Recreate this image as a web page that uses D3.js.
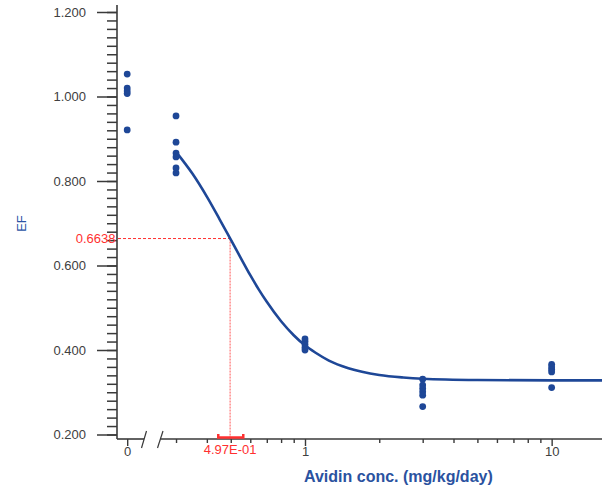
<!DOCTYPE html>
<html>
<head>
<meta charset="utf-8">
<script src="https://cdn.jsdelivr.net/npm/d3@7"></script>
<style>
  html, body { margin: 0; padding: 0; background: #fff; }
  svg { display: block; font-family: "Liberation Sans", Arial, sans-serif; }
</style>
</head>
<body>
<svg id="chart" width="602" height="489"></svg>
<script>
// Dose groups (mg/kg/day) and the EF measured in each animal
const doseGroups = [0, 0.3, 1, 3, 10];
const efByDose = [
  [1.053, 1.020, 1.013, 1.007, 0.921],
  [0.954, 0.892, 0.866, 0.857, 0.831, 0.819],
  [0.426, 0.420, 0.413, 0.406, 0.400],
  [0.331, 0.317, 0.309, 0.301, 0.293, 0.266],
  [0.366, 0.360, 0.354, 0.348, 0.311]
];

// Fitted dose-response curve
const fitDose = [0.3, 0.35, 0.4, 0.45, 0.497, 0.55, 0.6, 0.65, 0.7, 0.8, 0.9, 1.0, 1.1, 1.25, 1.5, 2, 2.5, 3, 5, 10, 16];
const fitEF   = [0.869, 0.817, 0.763, 0.710, 0.664, 0.617, 0.577, 0.543, 0.514, 0.468, 0.435, 0.411, 0.394, 0.375, 0.357, 0.341, 0.335, 0.332, 0.329, 0.328, 0.328];

// EC50 with its interval and the response at EC50
const ec50 = 0.497;
const ec50Label = "4.97E-01";
const ec50Low = 0.445;
const ec50High = 0.562;
const efAtEc50 = 0.6638;

// Axis ticks
const yMajorTicks = [0.2, 0.4, 0.6, 0.8, 1.0, 1.2];
const yMinorTicks = d3.range(0.2, 1.2001, 0.02);
const xMajorTicks = [1, 10];
const xMinorTicks = [0.3, 0.4, 0.5, 0.6, 0.7, 0.8, 0.9, 2, 3, 4, 5, 6, 7, 8, 9];

const svg = d3.select("#chart");
const axisColor = "#3a3a3a";
const textColor = "#404040";
const blue = "#1e4797";
const red = "#ff3030";

const axisX = 117, axisY = 439;

const y = d3.scaleLinear().domain([0.2, 1.2]).range([434.5, 12]);
const xLog = d3.scaleLog().domain([0.26, 16]).range([160.7, 602]);
const xZero = d3.scaleLinear().domain([-1, 1]).range([116.8, 137.6]);
const xPos = d => d === 0 ? xZero(0) : xLog(d);

// ---- Y axis ----
const yMinor = svg.append("g").attr("transform", `translate(${axisX},0)`)
  .call(d3.axisLeft(y).tickValues(yMinorTicks).tickSize(10).tickFormat(""));
const yMajor = svg.append("g").attr("transform", `translate(${axisX},0)`)
  .call(d3.axisLeft(y).tickValues(yMajorTicks).tickSize(20).tickPadding(11).tickFormat(d3.format(".3f")));
[yMinor, yMajor].forEach(g => {
  g.select(".domain").remove();
  g.selectAll("line").attr("stroke", axisColor).attr("stroke-width", 1.5);
  g.selectAll("text").attr("fill", textColor).attr("font-size", 13)
    .attr("font-family", "Liberation Sans, Arial, sans-serif");
});
svg.append("line").attr("x1", axisX).attr("x2", axisX).attr("y1", 5).attr("y2", axisY)
  .attr("stroke", axisColor).attr("stroke-width", 1.6);

// ---- X axis: zero segment, break, log segment ----
svg.append("line").attr("x1", axisX).attr("x2", 144).attr("y1", axisY).attr("y2", axisY)
  .attr("stroke", axisColor).attr("stroke-width", 1.6);
svg.append("line").attr("x1", 160.5).attr("x2", 602).attr("y1", axisY).attr("y2", axisY)
  .attr("stroke", axisColor).attr("stroke-width", 1.6);
[[146.5, 141.5], [163, 157.5]].forEach(([xt, xb]) => {
  svg.append("line").attr("x1", xt).attr("y1", 431).attr("x2", xb).attr("y2", 448)
    .attr("stroke", axisColor).attr("stroke-width", 1.2);
});

const styleX = g => {
  g.select(".domain").remove();
  g.selectAll("line").attr("stroke", axisColor).attr("stroke-width", 1.4);
  g.selectAll("text").attr("fill", textColor).attr("font-size", 13)
    .attr("font-family", "Liberation Sans, Arial, sans-serif");
};
svg.append("g").attr("transform", `translate(0,${axisY})`)
  .call(d3.axisBottom(xZero).tickValues([0]).tickSize(7).tickPadding(1).tickFormat(d3.format("d")))
  .call(styleX);
svg.append("g").attr("transform", `translate(0,${axisY})`)
  .call(d3.axisBottom(xLog).tickValues(xMinorTicks).tickSize(4).tickFormat(""))
  .call(styleX);
svg.append("g").attr("transform", `translate(0,${axisY})`)
  .call(d3.axisBottom(xLog).tickValues(xMajorTicks).tickSize(7).tickPadding(1).tickFormat(d3.format("d")))
  .call(styleX);

// ---- Axis titles ----
svg.append("text")
  .attr("transform", "translate(25.5,223.5) rotate(-90)")
  .attr("text-anchor", "middle")
  .attr("font-size", 13).attr("fill", "#2b55a5")
  .text("EF");
svg.append("text")
  .attr("x", 304).attr("y", 482)
  .attr("font-size", 16).attr("font-weight", "bold").attr("fill", "#2a52a0")
  .text("Avidin conc. (mg/kg/day)");

// ---- EC50 guide lines ----
svg.append("line")
  .attr("x1", axisX + 1).attr("x2", xLog(ec50)).attr("y1", y(efAtEc50)).attr("y2", y(efAtEc50))
  .attr("stroke", red).attr("stroke-width", 1).attr("stroke-dasharray", "3,2");
svg.append("line")
  .attr("x1", xLog(ec50)).attr("x2", xLog(ec50)).attr("y1", y(efAtEc50)).attr("y2", axisY)
  .attr("stroke", red).attr("stroke-width", 1).attr("stroke-dasharray", "2,1").attr("opacity", 0.8);

// ---- Fitted curve ----
const fitPoints = fitDose.map((d, i) => [xLog(d), y(fitEF[i])]);
svg.append("path")
  .attr("d", d3.line().curve(d3.curveMonotoneX)(fitPoints))
  .attr("fill", "none").attr("stroke", blue).attr("stroke-width", 2.6);

// ---- Observations ----
const obs = doseGroups.flatMap((d, i) => efByDose[i].map(v => ({ dose: d, ef: v })));
svg.append("g").selectAll("circle").data(obs).join("circle")
  .attr("cx", d => xPos(d.dose))
  .attr("cy", d => y(d.ef))
  .attr("r", 3.4)
  .attr("fill", blue);

// ---- EC50 interval and labels ----
svg.append("path")
  .attr("d", `M${xLog(ec50Low)},434 V437.5 H${xLog(ec50High)} V434`)
  .attr("fill", "none").attr("stroke", red).attr("stroke-width", 2.5);
svg.append("text")
  .attr("x", xLog(ec50)).attr("y", 453.5).attr("text-anchor", "middle")
  .attr("font-size", 13).attr("fill", red)
  .text(ec50Label);
svg.append("text")
  .attr("x", 115.5).attr("y", y(efAtEc50)).attr("dy", "0.35em").attr("text-anchor", "end")
  .attr("font-size", 13).attr("fill", red)
  .text(efAtEc50.toFixed(4));
</script>
</body>
</html>
